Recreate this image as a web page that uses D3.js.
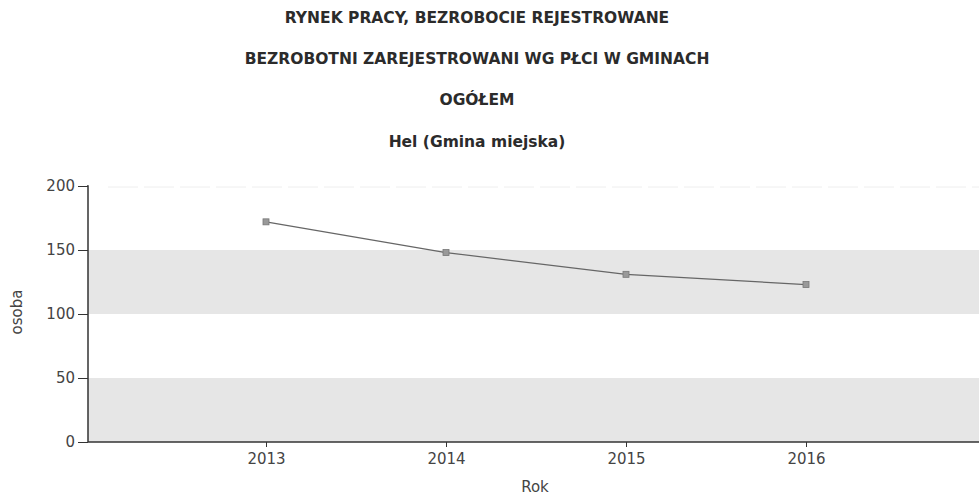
<!DOCTYPE html>
<html>
<head>
<meta charset="utf-8">
<script src="https://cdn.jsdelivr.net/npm/d3@7"></script>
<style>
  body { margin: 0; background: #fff; }
  text { font-family: "DejaVu Sans", Verdana, sans-serif; }
</style>
</head>
<body>
<div id="chart"></div>
<script>
var titles = [
    "RYNEK PRACY, BEZROBOCIE REJESTROWANE",
    "BEZROBOTNI ZAREJESTROWANI WG PŁCI W GMINACH",
    "OGÓŁEM",
    "Hel (Gmina miejska)"
];
var years = [2013, 2014, 2015, 2016];
var values = [172, 148, 131, 123];
var yTicks = [0, 50, 100, 150, 200];
var bands = [[0, 50], [100, 150]];

var width = 979, height = 498;
var margin = {left: 88, top: 186, bottom: 56};

var svg = d3.select("#chart").append("svg")
    .attr("width", width)
    .attr("height", height);

var x = d3.scaleLinear().domain([2012, 2017]).range([86, 986]);
var y = d3.scaleLinear().domain([0, 200]).range([height - margin.bottom, margin.top]);

// titles
var titleY = [23, 64, 105, 147];
svg.selectAll("text.title")
    .data(titles)
    .enter().append("text")
    .attr("class", "title")
    .attr("x", 477)
    .attr("y", function (d, i) { return titleY[i]; })
    .attr("text-anchor", "middle")
    .attr("font-size", "15.5px")
    .attr("font-weight", "bold")
    .attr("fill", "#2b2b2b")
    .text(function (d) { return d; });

// grey bands
svg.append("g")
    .selectAll("rect")
    .data(bands)
    .enter().append("rect")
    .attr("x", margin.left)
    .attr("width", width - margin.left)
    .attr("y", function (d) { return y(d[1]); })
    .attr("height", function (d) { return y(d[0]) - y(d[1]); })
    .attr("fill", "#e6e6e6");

// faint top line
svg.append("line")
    .attr("x1", margin.left + 20).attr("x2", width)
    .attr("y1", y(200) + 1).attr("y2", y(200) + 1)
    .attr("stroke", "#eee")
    .attr("stroke-dasharray", "30,6");

// axes
var xAxis = svg.append("g")
    .attr("transform", "translate(0," + y(0) + ")")
    .call(d3.axisBottom(x).tickValues(years).tickFormat(d3.format("d")).tickSize(5).tickPadding(6));
var yAxis = svg.append("g")
    .attr("transform", "translate(" + margin.left + ",0)")
    .call(d3.axisLeft(y).tickValues(yTicks).tickSize(10).tickPadding(3));

[xAxis, yAxis].forEach(function (a) {
    a.select(".domain").attr("stroke", "#333").attr("stroke-width", 1.5);
    a.selectAll(".tick line").attr("stroke", "#333");
    a.selectAll(".tick text")
        .attr("font-family", "DejaVu Sans, sans-serif")
        .attr("font-size", "15px")
        .attr("fill", "#444");
});
xAxis.select(".domain").attr("d", "M" + margin.left + ",0H" + width);
yAxis.select(".domain").attr("d", "M0," + y(0) + "V" + y(200) + "H-1");

// axis titles
svg.append("text")
    .attr("transform", "translate(22,312) rotate(-90)")
    .attr("text-anchor", "middle")
    .attr("font-size", "15px")
    .attr("fill", "#444")
    .text("osoba");
svg.append("text")
    .attr("x", 535)
    .attr("y", 492)
    .attr("text-anchor", "middle")
    .attr("font-size", "15px")
    .attr("fill", "#444")
    .text("Rok");

// line
var line = d3.line()
    .x(function (d, i) { return x(years[i]); })
    .y(function (d) { return y(d); });

svg.append("path")
    .datum(values)
    .attr("d", line)
    .attr("fill", "none")
    .attr("stroke", "#666")
    .attr("stroke-width", 1.2);

svg.append("g")
    .selectAll("rect")
    .data(values)
    .enter().append("rect")
    .attr("x", function (d, i) { return x(years[i]) - 3; })
    .attr("y", function (d) { return y(d) - 3; })
    .attr("width", 6)
    .attr("height", 6)
    .attr("fill", "#999")
    .attr("stroke", "#777")
    .attr("stroke-width", 0.8);
</script>
</body>
</html>
